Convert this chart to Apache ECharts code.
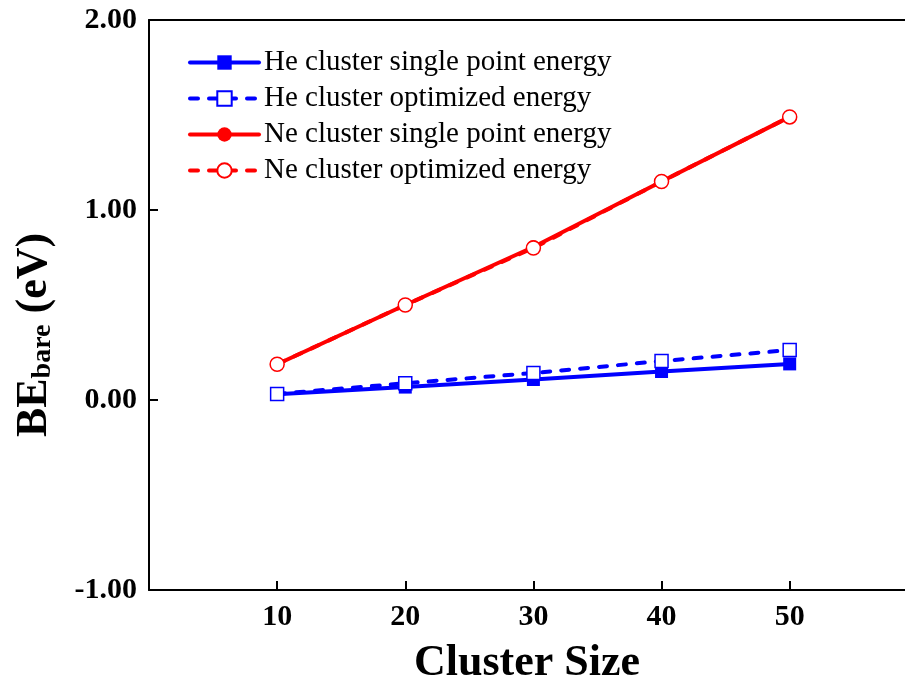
<!DOCTYPE html>
<html>
<head>
<meta charset="utf-8">
<script src="https://cdn.jsdelivr.net/npm/echarts@6/dist/echarts.min.js"></script>
<style>
  html, body { margin: 0; padding: 0; background: #fff; }
  #chart { width: 905px; height: 681px; }
</style>
</head>
<body>
<div id="chart"></div>
<script>
const clusterSize = [10, 20, 30, 40, 50]
const heSingle = [0.03, 0.068, 0.108, 0.15, 0.19]
const heOptimized = [0.032, 0.088, 0.142, 0.205, 0.263]
const neSingle = [0.188, 0.5, 0.805, 1.15, 1.49]
const neOptimized = [0.188, 0.5, 0.8, 1.15, 1.49]
const yTicks = [-1, 0, 1, 2]

const font = 'Liberation Serif'
const pair = (ys) => clusterSize.map((x, i) => [x, ys[i]])

const chart = echarts.init(document.getElementById('chart'))

function lineSeries(name, data, color, dashed, symbol, size) {
  return {
    name: name,
    type: 'line',
    data: pair(data),
    symbol: symbol,
    symbolSize: size,
    showSymbol: true,
    lineStyle: {
      color: color,
      width: 4,
      cap: 'round',
      type: dashed ? [8, 11] : 'solid'
    },
    itemStyle: {
      color: dashed ? '#fff' : color,
      borderColor: color,
      borderWidth: dashed ? 1.5 : 0
    },
    emphasis: { disabled: true },
    animation: false
  }
}

const axisFont = { fontFamily: font, fontSize: 30, fontWeight: 'bold', color: '#000' }

chart.setOption({
  grid: {
    left: 149,
    right: 0,
    top: 20,
    bottom: 91,
    containLabel: false,
    outerBoundsMode: 'none'
  },
  legend: {
    orient: 'vertical',
    left: 183,
    top: 43,
    itemWidth: 69,
    itemHeight: 18,
    itemGap: 7,
    lineStyle: { width: 4 },
    textStyle: { fontFamily: font, fontSize: 29, color: '#000' },
    data: [
      'He cluster single point energy',
      'He cluster optimized energy',
      'Ne cluster single point energy',
      'Ne cluster optimized energy'
    ]
  },
  xAxis: [{
    type: 'value',
    min: 0,
    max: 59,
    interval: 10,
    name: 'Cluster Size',
    nameLocation: 'middle',
    nameGap: 52,
    nameTextStyle: { fontFamily: font, fontSize: 44, fontWeight: 'bold', color: '#000' },
    axisLine: { onZero: false, lineStyle: { color: '#000', width: 2 } },
    axisTick: {
      inside: true,
      length: 9,
      customValues: clusterSize,
      lineStyle: { color: '#000', width: 2 }
    },
    axisLabel: Object.assign({
      margin: 12,
      inside: false,
      customValues: clusterSize,
      formatter: (v) => (clusterSize.includes(v) ? String(v) : '')
    }, axisFont),
    splitLine: { show: false }
  }, {
    type: 'value',
    position: 'top',
    min: 0,
    max: 59,
    axisLine: { onZero: false, lineStyle: { color: '#000', width: 2 } },
    axisTick: { show: false },
    axisLabel: { show: false },
    splitLine: { show: false }
  }],
  yAxis: {
    type: 'value',
    min: yTicks[0],
    max: yTicks[yTicks.length - 1],
    interval: 1,
    name: '{b|BE}{s|bare}{b| (eV)}',
    nameLocation: 'middle',
    nameGap: 92,
    nameTextStyle: {
      color: '#000',
      padding: [0, 60, 0, 0],
      rich: {
        b: { fontFamily: font, fontSize: 44, fontWeight: 'bold', color: '#000' },
        s: { fontFamily: font, fontSize: 28, fontWeight: 'bold', color: '#000', verticalAlign: 'bottom', padding: [16, 0, 0, 0] }
      }
    },
    axisLine: { lineStyle: { color: '#000', width: 2 } },
    axisTick: { inside: true, length: 9, lineStyle: { color: '#000', width: 2 } },
    axisLabel: Object.assign({
      margin: 12,
      inside: false,
      formatter: (v) => v.toFixed(2)
    }, axisFont),
    splitLine: { show: false }
  },
  series: [
    lineSeries('He cluster single point energy', heSingle, '#0000ff', false, 'rect', 13),
    lineSeries('He cluster optimized energy', heOptimized, '#0000ff', true, 'rect', 13),
    lineSeries('Ne cluster single point energy', neSingle, '#ff0000', false, 'circle', 14),
    lineSeries('Ne cluster optimized energy', neOptimized, '#ff0000', true, 'circle', 14)
  ]
})
</script>
</body>
</html>
